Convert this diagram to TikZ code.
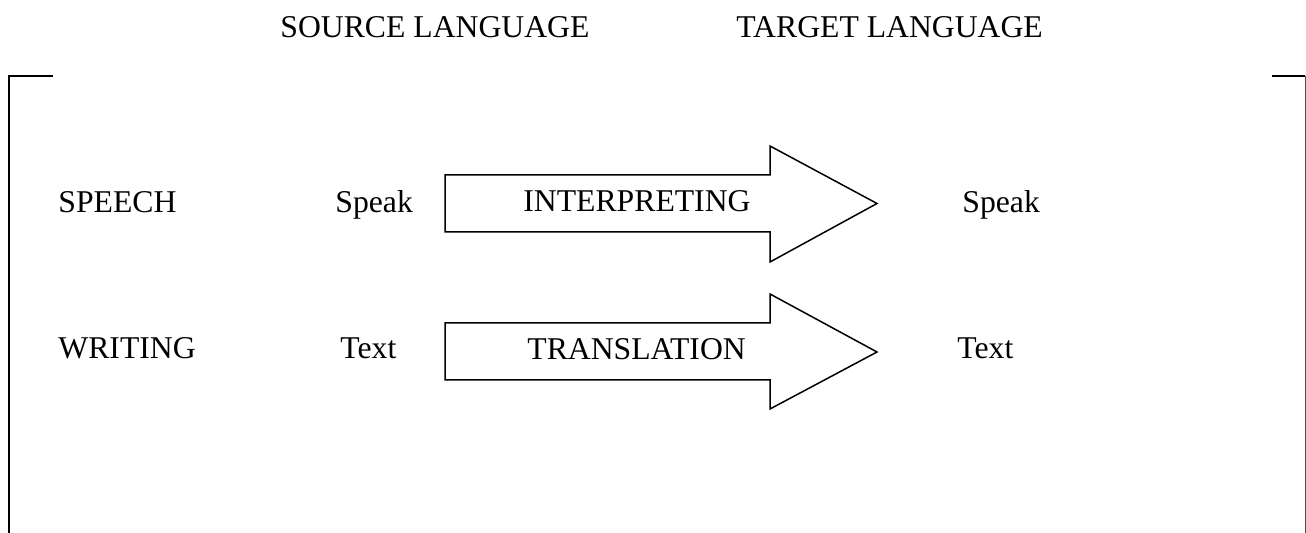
\documentclass[tikz,border=0pt]{standalone}
\usepackage{fontspec}
\setmainfont{Liberation Serif}
\begin{document}
\begin{tikzpicture}[x=0.5pt,y=-0.5pt,
  lbl/.style={anchor=base west,inner sep=0pt,font=\fontsize{15.85pt}{18pt}\selectfont},
  frame/.style={line width=1pt,black},
  bigarrow/.style={draw=black,line width=0.75pt,fill=white,line join=miter}]
\useasboundingbox (0,0) rectangle (1306,533);

% column headings
\node[lbl] (src) at (280,38) {SOURCE LANGUAGE};
\node[lbl] (tgt) at (736,38) {TARGET LANGUAGE};

% frame brackets
\draw[frame] (53,76) -- (9,76) -- (9,533);
\draw[frame] (1272,76) -- (1305,76);
\draw[line width=0.5pt,black!70] (1305.5,76) -- (1305.5,533);

% block arrows
\draw[bigarrow] (445,175) -- (770,175) -- (770,146) -- (877,203.5)
  -- (770,262) -- (770,232) -- (445,232) -- cycle;
\draw[bigarrow] (445,323) -- (770,323) -- (770,294) -- (877,352)
  -- (770,409) -- (770,380) -- (445,380) -- cycle;

% speech row
\node[lbl] (speech) at (58,213) {SPEECH};
\node[lbl] (speakA) at (335,213) {Speak};
\node[lbl] (interp) at (523,212) {INTERPRETING};
\node[lbl] (speakB) at (962,213) {Speak};

% writing row
\node[lbl] (writing) at (58,359) {WRITING};
\node[lbl] (textA) at (340,359) {Text};
\node[lbl] (transl) at (527,360) {TRANSLATION};
\node[lbl] (textB) at (957,359) {Text};
\end{tikzpicture}
\end{document}
